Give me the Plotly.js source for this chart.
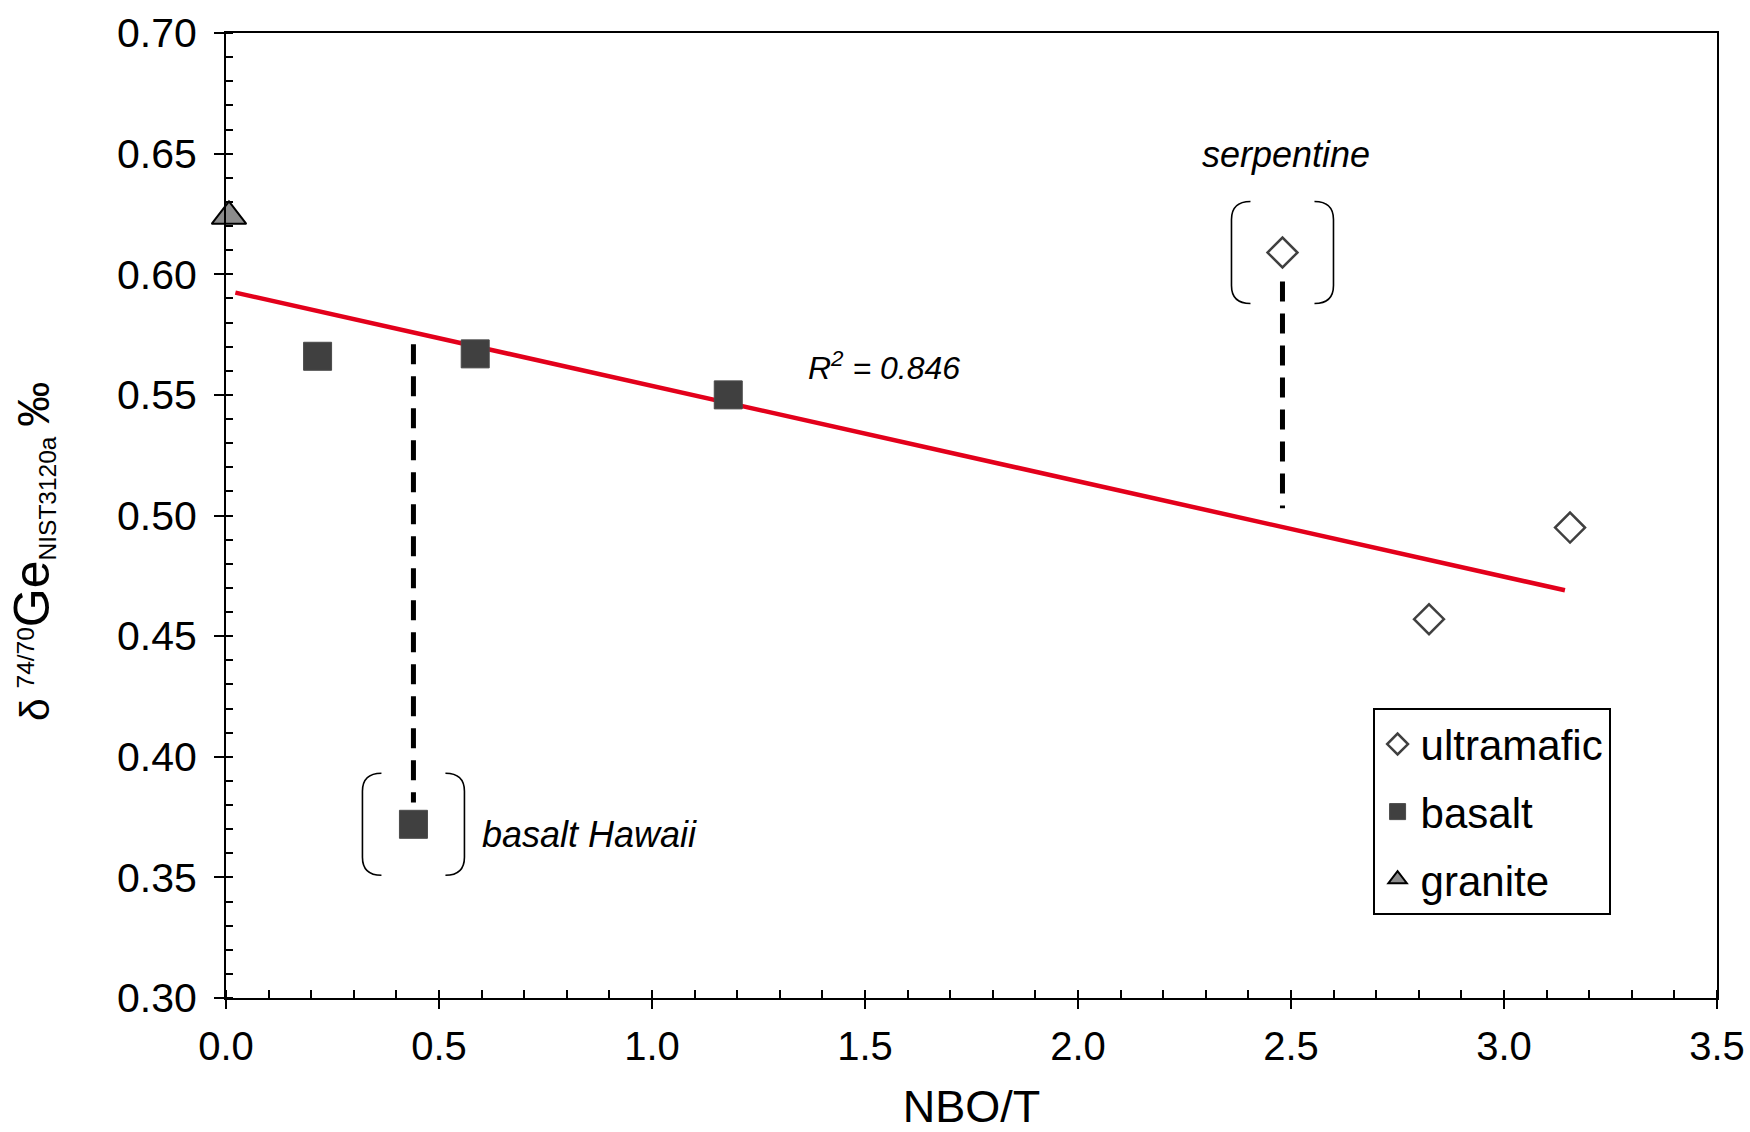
<!DOCTYPE html>
<html><head><meta charset="utf-8">
<script src="https://cdn.plot.ly/plotly-3.0.1.min.js"></script>
<style>html,body{margin:0;padding:0;background:#fff}#chart{width:1750px;height:1132px}</style>
</head><body><div id="chart"></div>
<script>
// ---- data ----
const ultramaficX = [2.48, 2.824, 3.155];
const ultramaficY = [0.609, 0.457, 0.495];
const basaltX = [0.215, 0.585, 1.179, 0.44];
const basaltY = [0.566, 0.567, 0.550, 0.372];
const graniteX = [0.007];
const graniteY = [0.624];
const fitX = [0.022, 3.143];
const fitY = [0.5924, 0.469];
const hawaiiLinkX = [0.44, 0.44];
const hawaiiLinkY = [0.571, 0.381];
const serpLinkX = [2.48, 2.48];
const serpLinkY = [0.597, 0.503];
const xTickVals = [0, 0.5, 1.0, 1.5, 2.0, 2.5, 3.0, 3.5];
const xTickText = ['0.0', '0.5', '1.0', '1.5', '2.0', '2.5', '3.0', '3.5'];
const yTickVals = [0.30, 0.35, 0.40, 0.45, 0.50, 0.55, 0.60, 0.65, 0.70];
const yTickText = ['0.30', '0.35', '0.40', '0.45', '0.50', '0.55', '0.60', '0.65', '0.70'];
const legendNames = ['ultramafic', 'basalt', 'granite'];
const hawaiiIdx = 3;   // index in basalt arrays
const serpIdx = 0;     // index in ultramafic arrays

const FONT = 'Liberation Sans, Arial, Helvetica, sans-serif';

const traces = [
  {x: fitX, y: fitY, mode: 'lines', line: {color: '#e3001b', width: 4.5}, showlegend: false, hoverinfo: 'skip'},
  {x: hawaiiLinkX, y: hawaiiLinkY, mode: 'lines', line: {color: '#000', width: 5, dash: '20px,12px'}, showlegend: false},
  {x: serpLinkX, y: serpLinkY, mode: 'lines', line: {color: '#000', width: 5, dash: '20px,12px'}, showlegend: false},
  {x: ultramaficX, y: ultramaficY, mode: 'markers', name: legendNames[0], legendgroup: 'g1',
   marker: {symbol: 'diamond', size: 23, color: '#fff', line: {color: '#404040', width: 2.5}}},
  {x: basaltX, y: basaltY, mode: 'markers', name: legendNames[1], legendgroup: 'g2',
   marker: {symbol: 'square', size: 28, color: '#404040', line: {color: '#4a4a4a', width: 1}}},
  {x: graniteX, y: graniteY, mode: 'markers', name: legendNames[2], legendgroup: 'g3', cliponaxis: false,
   marker: {symbol: 'triangle-up', size: 30, color: '#8c8c8c', line: {color: '#000', width: 2}}}
];

const leftBracket = 'M-32,51 Q-51,51 -51,33 L-51,-33 Q-51,-51 -32,-51';
const rightBracket = 'M32,51 Q51,51 51,33 L51,-33 Q51,-51 32,-51';
function bracket(px, py, path) {
  return {type: 'path', xref: 'x', yref: 'y', xsizemode: 'pixel', ysizemode: 'pixel',
          xanchor: px, yanchor: py, path: path, line: {color: '#000', width: 1.6}};
}

const layout = {
  width: 1750, height: 1132,
  margin: {l: 226, r: 33, t: 33, b: 134},
  paper_bgcolor: '#fff', plot_bgcolor: '#fff',
  font: {family: FONT, color: '#000'},
  showlegend: true,
  legend: {x: 0.769, y: 0.3003, xanchor: 'left', yanchor: 'top', bordercolor: '#000', borderwidth: 2,
           bgcolor: '#fff', font: {size: 42, family: FONT, color: '#000'}, tracegroupgap: 10,
           traceorder: 'grouped', itemwidth: 36},
  xaxis: {range: [0, 3.5], tickvals: xTickVals, ticktext: xTickText, ticks: 'outside', ticklen: 9, tickwidth: 2,
          tickcolor: '#000', showline: true, linecolor: '#000', linewidth: 2, mirror: true,
          showgrid: false, zeroline: false, tickfont: {size: 40, family: FONT}, ticklabelstandoff: 3,
          minor: {dtick: 0.1, ticks: 'inside', ticklen: 8, tickwidth: 2, tickcolor: '#000', showgrid: false},
          title: {text: 'NBO/T', font: {size: 45, family: FONT}, standoff: 37}},
  yaxis: {range: [0.30, 0.70], tickvals: yTickVals, ticktext: yTickText, ticks: 'outside', ticklen: 10, tickwidth: 2,
          tickcolor: '#000', showline: true, linecolor: '#000', linewidth: 2, mirror: true,
          showgrid: false, zeroline: false, tickfont: {size: 41, family: FONT}, ticklabelstandoff: 9,
          minor: {dtick: 0.01, ticks: 'inside', ticklen: 7, tickwidth: 2, tickcolor: '#000', showgrid: false}},
  shapes: [
    bracket(basaltX[hawaiiIdx], basaltY[hawaiiIdx], leftBracket),
    bracket(basaltX[hawaiiIdx], basaltY[hawaiiIdx], rightBracket),
    bracket(ultramaficX[serpIdx], ultramaficY[serpIdx], leftBracket),
    bracket(ultramaficX[serpIdx], ultramaficY[serpIdx], rightBracket)
  ],
  annotations: [
    {xref: 'paper', yref: 'paper', x: -0.1294, y: 0.4622, xanchor: 'center', yanchor: 'middle', textangle: -90,
     showarrow: false, font: {size: 35, family: FONT, color: '#000'},
     text: '<span style="font-size:41px">δ</span> <sup>74/70</sup><span style="font-size:50px">Ge</span><sub>NIST3120a</sub> <span style="font-size:45px">‰</span>'},
    {x: basaltX[hawaiiIdx], y: basaltY[hawaiiIdx], xanchor: 'left', yanchor: 'middle', xshift: 67, yshift: -10,
     showarrow: false, text: 'basalt Hawaii', font: {size: 36, family: FONT, style: 'italic', color: '#000'}},
    {x: ultramaficX[serpIdx], y: ultramaficY[serpIdx], xanchor: 'center', yanchor: 'middle', xshift: 4, yshift: 98,
     showarrow: false, text: 'serpentine', font: {size: 36, family: FONT, style: 'italic', color: '#000'}},
    {x: 1.3626, y: 0.562, xanchor: 'left', yanchor: 'middle', showarrow: false,
     text: 'R<sup>2</sup> = 0.846', font: {size: 32, family: FONT, style: 'italic', color: '#000'}}
  ]
};

Plotly.newPlot('chart', traces, layout, {displayModeBar: false, staticPlot: true});
</script>
</body></html>
